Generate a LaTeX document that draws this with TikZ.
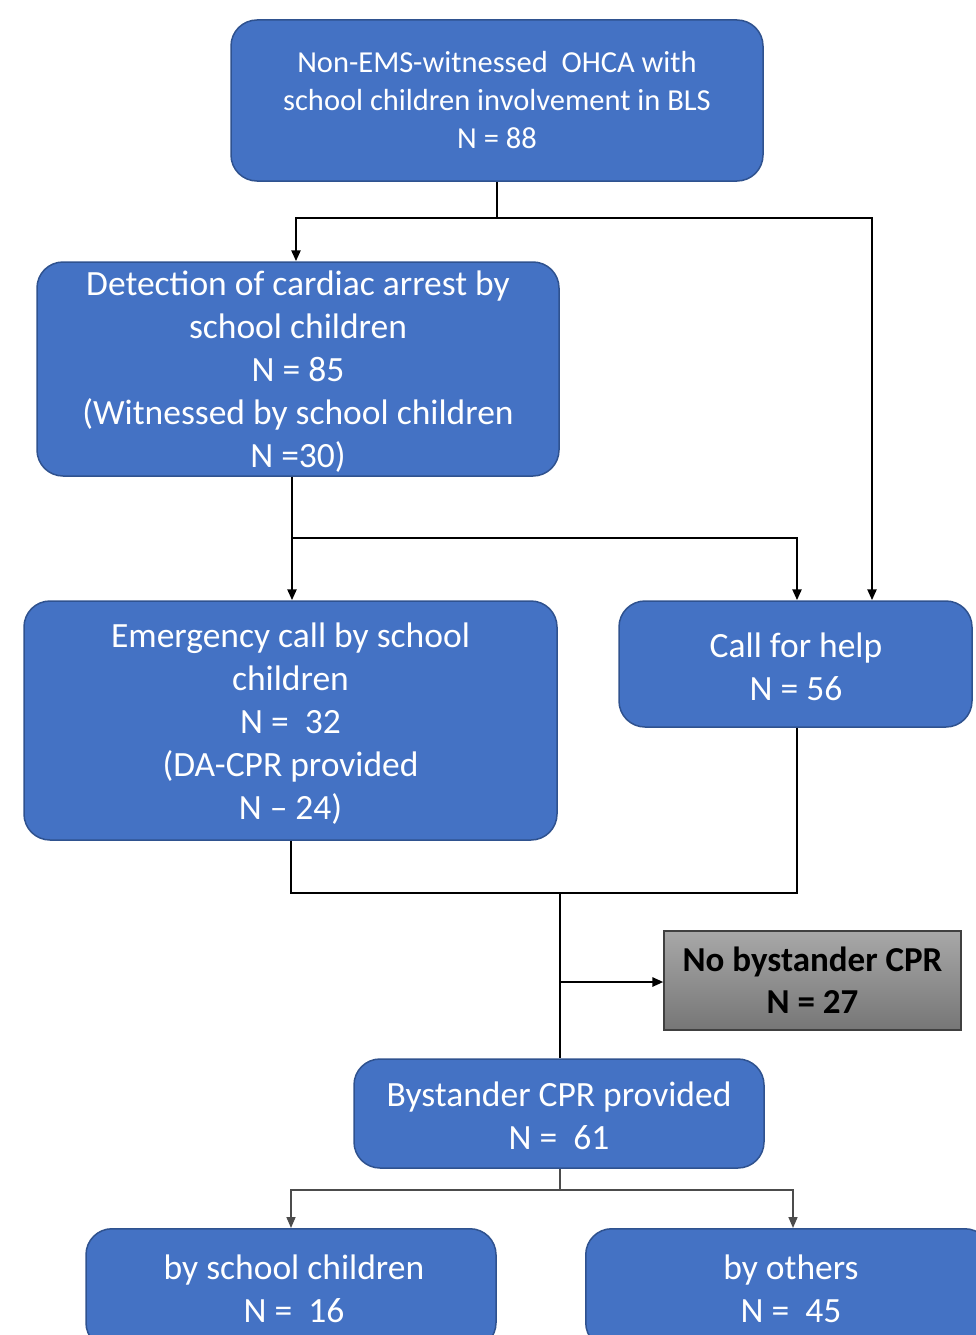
\documentclass[tikz,border=0pt]{standalone}
\usepackage{fontspec}
\setmainfont{Carlito}
\usetikzlibrary{arrows.meta}
\definecolor{boxblue}{RGB}{68,114,196}
\definecolor{boxedge}{RGB}{47,82,143}
\begin{document}
\begin{tikzpicture}[x=1pt,y=-1pt,
  bluebox/.style={draw=boxedge, line width=1.5pt, fill=boxblue, rounded corners=26pt, text=white, align=center, inner sep=0pt, font=\fontsize{35.5}{43}\selectfont},
  graybox/.style={draw=black!75, line width=1.2pt, top color={rgb,255:red,168;green,168;blue,168}, bottom color={rgb,255:red,118;green,118;blue,118}, align=center, inner sep=0pt, font=\fontsize{35}{42}\selectfont\bfseries},
  boxtext/.style={text=white, align=center, inner sep=0pt, font=\fontsize{35.5}{43}\selectfont},
  conn/.style={draw=black, line width=2.5pt},
  arr/.style={conn, -{Triangle[length=11pt,width=9pt]}},
  thinconn/.style={draw=black!70, line width=1.6pt},
  thinarr/.style={thinconn, -{Triangle[length=11pt,width=9pt]}}
]
\useasboundingbox (0,0) rectangle (975,1335);
\node[bluebox, minimum width=532pt, minimum height=161pt, font=\fontsize{30.5}{38}\selectfont] (top) at (497,100.5) {Non-EMS-witnessed\ \ OHCA with\\school children involvement in BLS\\N = 88};
\node[bluebox, minimum width=522pt, minimum height=214pt] (det) at (298,369) {};
\node[boxtext] (dett) at (298,372) {Detection of cardiac arrest by\\school children\\N = 85\\(Witnessed by school children\\N =30)};
\node[bluebox, minimum width=533pt, minimum height=239pt] (emg) at (290.5,720.5) {};
\node[boxtext] (emgt) at (290.5,724) {Emergency call by school\\children\\N =\ \ 32\\(DA-CPR provided\\N -- 24)};
\node[bluebox, minimum width=353pt, minimum height=126pt] (cfh) at (795.5,664) {};
\node[boxtext] (cfht) at (796,667) {Call for help\\N = 56};
\node[graybox, minimum width=297pt, minimum height=99pt] (nob) at (812.5,980.5) {No bystander CPR\\N = 27};
\node[bluebox, minimum width=410pt, minimum height=109pt] (byc) at (559,1113.5) {};
\node[boxtext] (byct) at (559,1116) {Bystander CPR provided\\N =\ \ 61};
\node[bluebox, minimum width=410pt, minimum height=120pt, anchor=north] (bsc) at (291,1228) {};
\node[boxtext] (bsct) at (294,1289) {by school children\\N =\ \ 16};
\node[bluebox, minimum width=405pt, minimum height=120pt, anchor=north west] (oth) at (585,1228) {};
\node[boxtext] (otht) at (791,1289) {by others\\N =\ \ 45};
% connectors
\coordinate (j1) at (497,218);
\draw[conn] (top.south) -- (j1);
\draw[arr] (j1) -| (det.north -| 296,0);
\draw[arr] (j1) -| (cfh.north -| 872,0);
\coordinate (j2) at (292,538);
\draw[conn] (det.south -| j2) -- (j2);
\draw[arr] (j2) -- (emg.north -| j2);
\draw[arr] (j2) -| (cfh.north -| 797,0);
\coordinate (j3) at (560,893);
\draw[conn] (emg.south -| 291,0) |- (j3);
\draw[conn] (cfh.south -| 797,0) |- (j3);
\coordinate (j4) at (560,982);
\draw[conn] (j3) -- (byc.north -| j3);
\draw[arr] (j4) -- (nob.west |- j4);
\coordinate (j5) at (560,1190);
\draw[thinconn] (byc.south -| j5) -- (j5);
\draw[thinarr] (j5) -| (bsc.north -| 291,0);
\draw[thinarr] (j5) -| (oth.north -| 793,0);
\end{tikzpicture}
\end{document}
